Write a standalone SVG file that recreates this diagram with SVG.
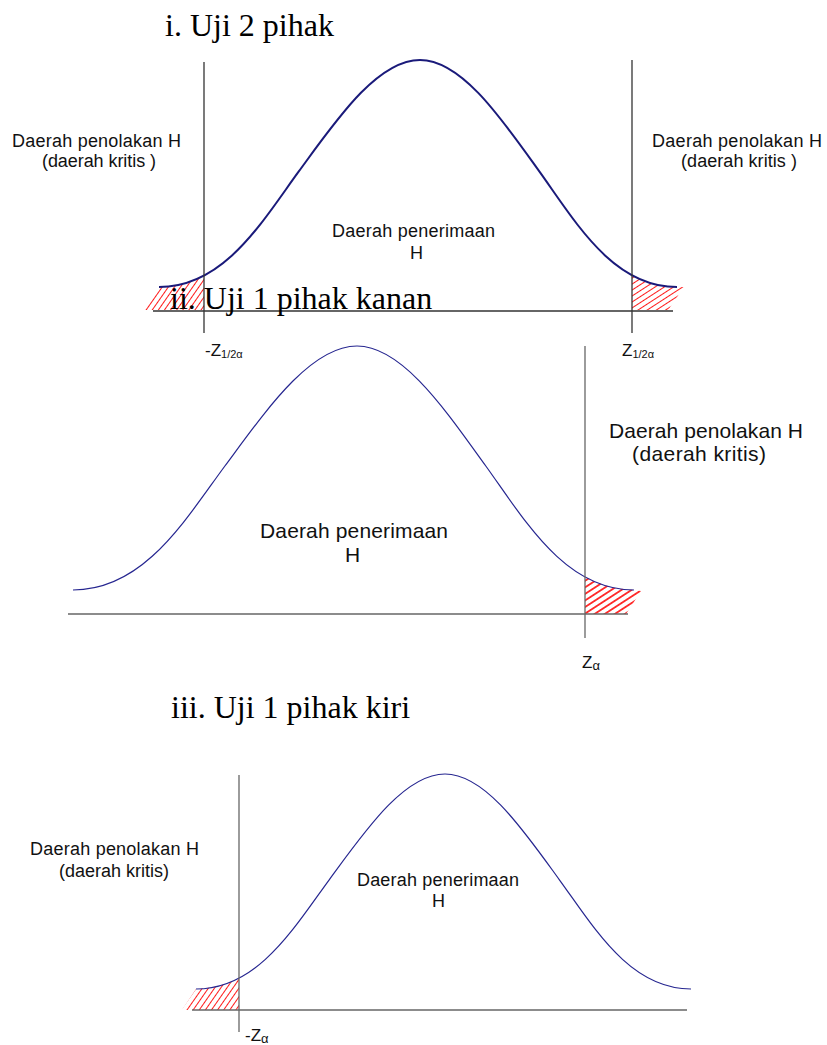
<svg xmlns="http://www.w3.org/2000/svg" width="827" height="1045" viewBox="0 0 827 1045">
<style>
.title{font-family:"Liberation Serif","Times New Roman",serif;font-size:32px;fill:#000}
.lbl{font-family:"Liberation Sans",Arial,sans-serif;font-size:18px;fill:#111}
.lbl2{font-family:"Liberation Sans",Arial,sans-serif;font-size:21px;fill:#111}
.z{font-family:"Liberation Sans",Arial,sans-serif;font-size:17px;fill:#111}
.sub{font-size:11px}
.suba{font-size:13px}
.curve1{fill:none;stroke:#1a1a7a;stroke-width:2}
.curve{fill:none;stroke:#262690;stroke-width:1.2}
.ax1{stroke:#333;stroke-width:1.3}
.ax{stroke:#666;stroke-width:1.3}
</style>
<defs>
<pattern id="hSteep" width="5" height="10" patternUnits="userSpaceOnUse" patternTransform="rotate(35)">
<line x1="2.5" y1="0" x2="2.5" y2="10" stroke="#ff1a1a" stroke-width="1"/>
</pattern>
<pattern id="hFlat" width="5" height="10" patternUnits="userSpaceOnUse" patternTransform="rotate(57)">
<line x1="2.5" y1="0" x2="2.5" y2="10" stroke="#ff1a1a" stroke-width="1"/>
</pattern>
<pattern id="hBold" width="5.5" height="10" patternUnits="userSpaceOnUse" patternTransform="rotate(57)">
<line x1="2.75" y1="0" x2="2.75" y2="10" stroke="#ff1a1a" stroke-width="1.7"/>
</pattern>
</defs>

<g id="section-i">
<g id="hatch-i-left"><polygon points="144,310 159,287 177.8,285.1 195,279.8 204,275.6 204,310" fill="url(#hSteep)"/></g>
<g id="hatch-i-right"><polygon points="632,275.4 641.5,279.8 658.5,285.1 677,287 684,287 668,310 632,310" fill="url(#hFlat)"/></g>
<g id="curve-i"><path class="curve1" d="M159,287 C224.25,287 261.8,222.1 298.6,171.7 C335.4,121.3 376.9,60 420,60 C462.4,60 503.3,121.3 539.5,171.7 C575.7,222.1 612.75,287 677,287"/></g>
<g id="axes-i">
<line class="ax1" x1="204" y1="62" x2="204" y2="333"/>
<line class="ax1" x1="632" y1="60" x2="632" y2="333"/>
<line class="ax1" x1="153" y1="311" x2="673" y2="311"/>
</g>
<text id="title-i" class="title" x="165" y="36">i. Uji 2 pihak</text>
<g id="label-i-left">
<text class="lbl" x="12" y="147" textLength="169" lengthAdjust="spacing">Daerah penolakan H</text>
<text class="lbl" x="42" y="167" textLength="114" lengthAdjust="spacing">(daerah kritis )</text>
</g>
<g id="label-i-right">
<text class="lbl" x="652" y="147" textLength="170" lengthAdjust="spacing">Daerah penolakan H</text>
<text class="lbl" x="681" y="167" textLength="116" lengthAdjust="spacing">(daerah kritis )</text>
</g>
<g id="label-i-center">
<text class="lbl" x="332" y="237" textLength="163" lengthAdjust="spacing">Daerah penerimaan</text>
<text class="lbl" x="410" y="259">H</text>
</g>
<g id="z-i-left"><text class="z" x="205" y="356">-Z<tspan class="sub" dy="2">1/2α</tspan></text></g>
<g id="z-i-right"><text class="z" x="622" y="356">Z<tspan class="sub" dy="2">1/2α</tspan></text></g>
</g>

<g id="section-ii">
<g id="hatch-ii"><polygon points="585,576.5 595.8,582.3 614.1,588 634,590 641,591 626,614 585,614" fill="url(#hBold)"/></g>
<g id="curve-ii"><path class="curve" d="M73,590 C144,590 184.9,520.2 224.9,466 C265,411.9 310.1,346 357,346 C402.7,346 446.7,411.9 485.8,466 C524.9,520.2 564.75,590 634,590"/></g>
<g id="axes-ii">
<line class="ax" x1="585" y1="346" x2="585" y2="638"/>
<line class="ax" x1="68" y1="614" x2="628" y2="614"/>
</g>
<text id="title-ii" class="title" x="170" y="309">ii. Uji 1 pihak kanan</text>
<g id="label-ii-center">
<text class="lbl2" x="260" y="538" textLength="188" lengthAdjust="spacing">Daerah penerimaan</text>
<text class="lbl2" x="345" y="562">H</text>
</g>
<g id="label-ii-right">
<text class="lbl2" x="609" y="438" textLength="194" lengthAdjust="spacing">Daerah penolakan H</text>
<text class="lbl2" x="632" y="461" textLength="134" lengthAdjust="spacing">(daerah kritis)</text>
</g>
<g id="z-ii"><text class="z" x="582" y="668">Z<tspan class="suba" dy="2">α</tspan></text></g>
</g>

<g id="section-iii">
<g id="hatch-iii"><polygon points="182,1010 196,989 214,987.2 230.4,982.2 239,978.5 239,1010" fill="url(#hSteep)"/></g>
<g id="curve-iii"><path class="curve" d="M196,989 C258.25,989 294.1,927.5 329.2,879.8 C364.3,832 403.9,774 445,774 C485.6,774 524.7,832 559.4,879.8 C594.1,927.5 629.5,989 691,989"/></g>
<g id="axes-iii">
<line class="ax" x1="239" y1="775" x2="239" y2="1032"/>
<line class="ax" x1="192" y1="1010" x2="687" y2="1010"/>
</g>
<text id="title-iii" class="title" x="171" y="718">iii. Uji 1 pihak kiri</text>
<g id="label-iii-left">
<text class="lbl" x="30" y="855" textLength="169" lengthAdjust="spacing">Daerah penolakan H</text>
<text class="lbl" x="114" y="877" text-anchor="middle">(daerah kritis)</text>
</g>
<g id="label-iii-center">
<text class="lbl" x="357" y="886" textLength="162" lengthAdjust="spacing">Daerah penerimaan</text>
<text class="lbl" x="432" y="907">H</text>
</g>
<g id="z-iii"><text class="z" x="245" y="1041">-Z<tspan class="suba" dy="2">α</tspan></text></g>
</g>
</svg>
